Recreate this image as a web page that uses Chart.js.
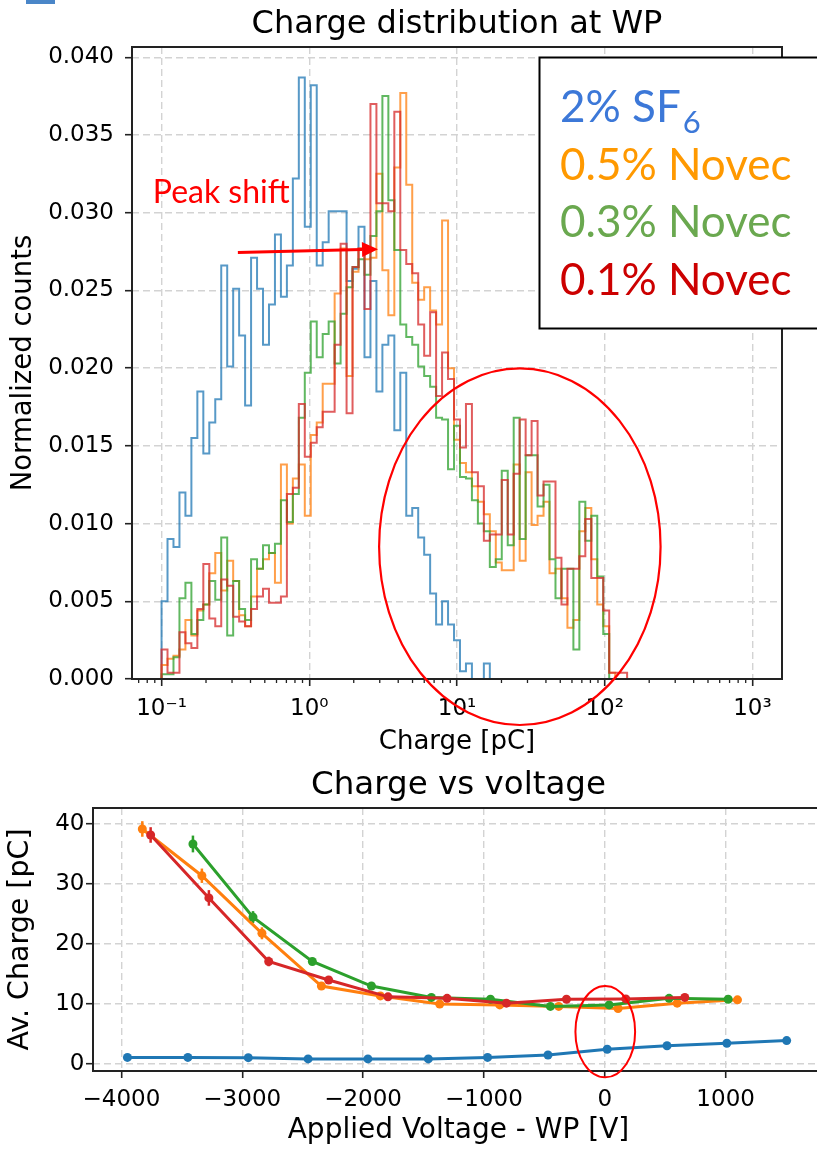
<!DOCTYPE html>
<html>
<head>
<meta charset="utf-8">
<script src="https://cdn.jsdelivr.net/npm/chart.js@4.4.1/dist/chart.umd.min.js"></script>
<style>
  html, body { margin: 0; padding: 0; background: #fff; overflow: hidden; width: 817px; height: 1151px; }
  #hist { position: absolute; left: 0; top: 0; }
  #volt { position: absolute; left: 0; top: 770px; }
  #corner { position: absolute; left: 26px; top: 0; width: 29px; height: 4px; background: #4a86c8; }
</style>
</head>
<body>
<div id="corner"></div>
<canvas id="hist" width="817" height="770"></canvas>
<canvas id="volt" width="845" height="381"></canvas>
<script>
// ---- top: charge histograms, bins = logspace(-1, 3, 100) pC ----
const BIN_LOG_MIN = -1, BIN_LOG_MAX = 3, N_EDGES = 100;

const sf6Counts = [
  0.0050, 0.0090, 0.0085, 0.0120, 0.0105, 0.0155, 0.0185, 0.0145, 0.0165, 0.0180,
  0.0266, 0.0201, 0.0251, 0.0221, 0.0176, 0.0271, 0.0251, 0.0215, 0.0241, 0.0286,
  0.0246, 0.0266, 0.0322, 0.0387, 0.0291, 0.0382, 0.0266, 0.0281, 0.0301, 0.0301,
  0.0301, 0.0256, 0.0264, 0.0291, 0.0207, 0.0256, 0.0185, 0.0215, 0.0221, 0.0160,
  0.0197, 0.0105, 0.0110, 0.0091, 0.0080, 0.0055, 0.0035, 0.0050, 0.0035, 0.0025,
  0.0005, 0.0010, 0, 0, 0.0010
];
const novec05Counts = [
  0.0009, 0.0013, 0.0015, 0.0019, 0.0038, 0.0028, 0.0044, 0.0048, 0.0068, 0.0081,
  0.0057, 0.0076, 0.0063, 0.0041, 0.0034, 0.0053, 0.0071, 0.0077, 0.0081, 0.0062,
  0.0138, 0.0100, 0.0129, 0.0138, 0.0105, 0.0157, 0.0165, 0.0190, 0.0190, 0.0248,
  0.0277, 0.0195, 0.0262, 0.0277, 0.0270, 0.0271, 0.0325, 0.0263, 0.0234, 0.0329,
  0.0377, 0.0318, 0.0255, 0.0244, 0.0252, 0.0237, 0.0228, 0.0295, 0.0200, 0.0154,
  0.0139, 0.0133, 0.0124, 0.0114, 0.0106, 0.0095, 0.0075, 0.0070, 0.0070, 0.0138,
  0.0076, 0.0133, 0.0099, 0.0105, 0.0114, 0.0068, 0.0071, 0.0052, 0.0033, 0.0038,
  0.0095, 0.0110, 0.0077, 0.0048, 0.0034, 0.0004
];
const novec03Counts = [
  0.0003, 0.0003, 0.0014, 0.0052, 0.0062, 0.0029, 0.0038, 0.0048, 0.0063, 0.0051,
  0.0091, 0.0028, 0.0063, 0.0045, 0.0038, 0.0077, 0.0071, 0.0086, 0.0081, 0.0087,
  0.0115, 0.0101, 0.0119, 0.0168, 0.0197, 0.0230, 0.0207, 0.0222, 0.0230, 0.0203,
  0.0235, 0.0252, 0.0265, 0.0270, 0.0260, 0.0285, 0.0301, 0.0375, 0.0308, 0.0276,
  0.0228, 0.0220, 0.0215, 0.0201, 0.0195, 0.0188, 0.0168, 0.0167, 0.0135, 0.0163,
  0.0130, 0.0129, 0.0115, 0.0100, 0.0095, 0.0072, 0.0077, 0.0134, 0.0086, 0.0168,
  0.0090, 0.0144, 0.0144, 0.0111, 0.0125, 0.0077, 0.0052, 0.0071, 0.0071, 0.0019,
  0.0114, 0.0089, 0.0105, 0.0066, 0.0029
];
const novec01Counts = [
  0.0019, 0.0004, 0.0004, 0.0030, 0.0023, 0.0020, 0.0045, 0.0074, 0.0039, 0.0034,
  0.0064, 0.0060, 0.0040, 0.0037, 0.0034, 0.0045, 0.0053, 0.0058, 0.0049, 0.0049,
  0.0053, 0.0119, 0.0123, 0.0177, 0.0143, 0.0152, 0.0162, 0.0172, 0.0172, 0.0215,
  0.0280, 0.0171, 0.0265, 0.0277, 0.0238, 0.0370, 0.0306, 0.0306, 0.0301, 0.0365,
  0.0276, 0.0267, 0.0261, 0.0228, 0.0208, 0.0236, 0.0182, 0.0210, 0.0193, 0.0167,
  0.0149, 0.0177, 0.0133, 0.0124, 0.0089, 0.0093, 0.0093, 0.0128, 0.0093, 0.0132,
  0.0167, 0.0144, 0.0166, 0.0118, 0.0127, 0.0127, 0.0078, 0.0048, 0.0071, 0.0071,
  0.0079, 0.0103, 0.0065, 0.0065, 0.0044, 0.0004, 0.0004, 0.0004
];
const histLabels = ['2% SF_6', '0.5% Novec', '0.3% Novec', '0.1% Novec'];
const chargeTicks = [0.1, 1, 10, 100, 1000];
const countTicks = [0, 0.005, 0.010, 0.015, 0.020, 0.025, 0.030, 0.035, 0.040];

// ---- bottom: average charge vs applied voltage ----
const sf6Volt = [-3950, -3450, -2950, -2455, -1960, -1460, -970, -470, 20, 515, 1010, 1505];
const sf6Charge = [1.1, 1.1, 1.05, 0.85, 0.85, 0.85, 1.1, 1.5, 2.45, 3.05, 3.45, 3.9];
const sf6Err = [0.1, 0.1, 0.1, 0.1, 0.1, 0.1, 0.1, 0.1, 0.1, 0.1, 0.1, 0.1];
const n05Volt = [-3827, -3334, -2837, -2345, -1857, -1366, -869, -381, 110, 599, 1098];
const n05Charge = [39.2, 31.4, 21.8, 13.0, 11.35, 10.0, 9.85, 9.6, 9.25, 10.15, 10.7];
const n05Err = [1.3, 1.2, 1.0, 0.6, 0.4, 0.3, 0.3, 0.3, 0.3, 0.3, 0.3];
const n03Volt = [-3408, -2911, -2420, -1931, -1435, -946, -450, 36, 532, 1021];
const n03Charge = [36.7, 24.5, 17.1, 13.0, 11.1, 10.8, 9.6, 9.85, 10.95, 10.8];
const n03Err = [1.4, 1.0, 0.6, 0.4, 0.3, 0.3, 0.3, 0.3, 0.3, 0.3];
const n01Volt = [-3758, -3276, -2781, -2285, -1794, -1305, -814, -317, 174, 662];
const n01Charge = [38.2, 27.7, 17.1, 14.0, 11.2, 10.95, 10.15, 10.8, 10.85, 11.1];
const n01Err = [1.3, 1.3, 0.8, 0.6, 0.4, 0.3, 0.3, 0.3, 0.3, 0.3];
const voltTicks = [-4000, -3000, -2000, -1000, 0, 1000];
const avChargeTicks = [0, 10, 20, 30, 40];

// annotations drawn on top (data coordinates)
const peakShiftAt = [0.0872, 0.0306];
const arrowFrom = [0.3286, 0.02744], arrowTo = [2.92, 0.02765];
const ovalCharge = [2.97, 238.8], ovalCounts = [0.01998, -0.00296];
const ovalVolt = [-243, 251], ovalAvCharge = [13.0, -2.22];

Chart.defaults.color = '#000';
Chart.defaults.font.family = 'DejaVu Sans';

const TAB = ['#1f77b4', '#ff7f0e', '#2ca02c', '#d62728'];
const HIST_COLORS = ['rgba(31,119,180,0.75)', 'rgba(255,127,14,0.75)', 'rgba(44,160,44,0.75)', 'rgba(214,39,40,0.75)'];
const TEXT_COLORS = ['#3c78d8', '#ff9900', '#6aa84f', '#cc0000'];

const chargeEdges = Array.from({length: N_EDGES}, (_, k) =>
  10 ** (BIN_LOG_MIN + (BIN_LOG_MAX - BIN_LOG_MIN) * k / (N_EDGES - 1)));

function histOutline(counts) {
  const pts = [{x: chargeEdges[0], y: 0}];
  counts.forEach((c, i) => pts.push({x: chargeEdges[i], y: c}));
  pts.push({x: chargeEdges[counts.length], y: 0});
  return pts;
}

const gridStyle = {color: '#d3d3d3', lineWidth: 1.4, tickColor: '#222', tickWidth: 1.6, tickLength: 7, borderDash: [7, 4]};
const borderStyle = {display: false, dash: [7, 4]};
const tickFont = {family: 'DejaVu Sans', size: 23};
const SUP = {'-': '\u207b', '0': '\u2070', '1': '\u00b9', '2': '\u00b2', '3': '\u00b3'};

function drawEllipse(ctx, xs, ys, xv, yv) {
  const x0 = xs.getPixelForValue(xv[0]), x1 = xs.getPixelForValue(xv[1]);
  const y0 = ys.getPixelForValue(yv[0]), y1 = ys.getPixelForValue(yv[1]);
  ctx.beginPath();
  ctx.ellipse((x0 + x1) / 2, (y0 + y1) / 2, Math.abs(x1 - x0) / 2, Math.abs(y1 - y0) / 2, 0, 0, 2 * Math.PI);
  ctx.stroke();
}

const histDecor = {
  id: 'histDecor',
  afterDraw(chart) {
    const {ctx, chartArea: a, scales: {x, y}} = chart;
    ctx.save();
    // minor log ticks
    ctx.strokeStyle = '#222';
    ctx.lineWidth = 1.3;
    for (let d = -2; d <= 3; d++) {
      for (let m = 2; m <= 9; m++) {
        const v = m * 10 ** d;
        if (v < x.min || v > x.max) continue;
        const px = x.getPixelForValue(v);
        ctx.beginPath(); ctx.moveTo(px, a.bottom); ctx.lineTo(px, a.bottom + 4); ctx.stroke();
      }
    }
    ctx.lineWidth = 2;
    ctx.strokeRect(a.left, a.top, a.right - a.left, a.bottom - a.top);

    ctx.fillStyle = '#000';
    ctx.font = '32px "DejaVu Sans"';
    ctx.textAlign = 'center';
    ctx.textBaseline = 'alphabetic';
    ctx.fillText('Charge distribution at WP', (a.left + a.right) / 2, 33);

    // red notes
    ctx.strokeStyle = '#ff0000';
    ctx.fillStyle = '#ff0000';
    ctx.lineWidth = 2.2;
    drawEllipse(ctx, x, y, ovalCharge, ovalCounts);

    const ax0 = x.getPixelForValue(arrowFrom[0]), ay0 = y.getPixelForValue(arrowFrom[1]);
    const ax1 = x.getPixelForValue(arrowTo[0]), ay1 = y.getPixelForValue(arrowTo[1]);
    const ang = Math.atan2(ay1 - ay0, ax1 - ax0);
    const bx = ax1 - 16 * Math.cos(ang), by = ay1 - 16 * Math.sin(ang);
    ctx.lineWidth = 3;
    ctx.beginPath(); ctx.moveTo(ax0, ay0); ctx.lineTo(bx, by); ctx.stroke();
    ctx.beginPath();
    ctx.moveTo(ax1, ay1);
    ctx.lineTo(bx + 7.5 * Math.sin(ang), by - 7.5 * Math.cos(ang));
    ctx.lineTo(bx - 7.5 * Math.sin(ang), by + 7.5 * Math.cos(ang));
    ctx.closePath(); ctx.fill();

    ctx.font = '32px Lato';
    ctx.textAlign = 'left';
    ctx.fillText('Peak shift', x.getPixelForValue(peakShiftAt[0]), y.getPixelForValue(peakShiftAt[1]));

    // legend text box
    ctx.fillStyle = '#fff';
    ctx.strokeStyle = '#000';
    ctx.lineWidth = 2;
    ctx.fillRect(539.5, 57.5, 320, 271);
    ctx.strokeRect(539.5, 57.5, 320, 271);
    chart.data.datasets.forEach((ds, i) => {
      const [main, sub] = ds.label.split('_');
      const by0 = 121.7 + 57.8 * i;
      ctx.fillStyle = TEXT_COLORS[i];
      ctx.font = '44px Lato';
      ctx.fillText(main, 560, by0);
      if (sub) {
        const w = ctx.measureText(main).width;
        ctx.font = '31px Lato';
        ctx.fillText(sub, 560 + w + 2, by0 + 11);
      }
    });
    ctx.restore();
  }
};

new Chart(document.getElementById('hist'), {
  type: 'line',
  data: {
    datasets: [sf6Counts, novec05Counts, novec03Counts, novec01Counts].map((c, i) => ({
      label: histLabels[i],
      data: histOutline(c),
      borderColor: HIST_COLORS[i],
      borderWidth: 2,
      pointRadius: 0,
      stepped: 'before',
      fill: false,
      order: 3 - i
    }))
  },
  options: {
    responsive: false,
    animation: false,
    devicePixelRatio: 1,
    layout: {padding: {left: 0, top: 47, right: 35, bottom: 0}},
    plugins: {legend: {display: false}, tooltip: {enabled: false}},
    scales: {
      x: {
        type: 'logarithmic',
        min: 10 ** -1.2,
        max: 10 ** 3.2,
        afterBuildTicks: s => { s.ticks = chargeTicks.map(v => ({value: v})); },
        afterFit: s => { s.height = 91; },
        grid: gridStyle,
        border: borderStyle,
        ticks: {
          font: tickFont, color: '#000', padding: 9, autoSkip: false, maxRotation: 0,
          callback: v => '10' + String(Math.round(Math.log10(v))).split('').map(c => SUP[c]).join('')
        },
        title: {display: true, text: 'Charge [pC]', font: {size: 26}, color: '#000', padding: {top: 0, bottom: 12}}
      },
      y: {
        min: 0,
        max: 0.04066,
        afterBuildTicks: s => { s.ticks = countTicks.map(v => ({value: v})); },
        afterFit: s => { s.width = 132; },
        grid: gridStyle,
        border: borderStyle,
        ticks: {font: tickFont, color: '#000', padding: 11, callback: v => v.toFixed(3)},
        title: {display: true, text: 'Normalized counts', font: {size: 27.5}, color: '#000', padding: {top: 7, bottom: 0}}
      }
    }
  },
  plugins: [histDecor]
});

const voltDecor = {
  id: 'voltDecor',
  beforeDatasetsDraw(chart) {
    const {ctx, scales: {x, y}} = chart;
    ctx.save();
    ctx.lineWidth = 2.5;
    chart.data.datasets.forEach((ds, i) => {
      ctx.strokeStyle = TAB[i];
      ds.data.forEach((p, j) => {
        const e = ds.errors[j];
        const px = x.getPixelForValue(p.x);
        ctx.beginPath();
        ctx.moveTo(px, y.getPixelForValue(p.y - e));
        ctx.lineTo(px, y.getPixelForValue(p.y + e));
        ctx.stroke();
      });
    });
    ctx.restore();
  },
  afterDraw(chart) {
    const {ctx, chartArea: a, scales: {x, y}} = chart;
    ctx.save();
    ctx.strokeStyle = '#222';
    ctx.lineWidth = 2;
    ctx.strokeRect(a.left, a.top, a.right - a.left, a.bottom - a.top);
    ctx.fillStyle = '#000';
    ctx.font = '32.5px "DejaVu Sans"';
    ctx.textAlign = 'center';
    ctx.textBaseline = 'alphabetic';
    ctx.fillText('Charge vs voltage', (a.left + a.right) / 2, 24);
    ctx.strokeStyle = '#ff0000';
    ctx.lineWidth = 2;
    drawEllipse(ctx, x, y, ovalVolt, ovalAvCharge);
    ctx.restore();
  }
};

const voltSeries = [
  [sf6Volt, sf6Charge, sf6Err],
  [n05Volt, n05Charge, n05Err],
  [n03Volt, n03Charge, n03Err],
  [n01Volt, n01Charge, n01Err]
];

new Chart(document.getElementById('volt'), {
  type: 'scatter',
  data: {
    datasets: voltSeries.map(([vx, vy, ve], i) => ({
      label: histLabels[i],
      data: vx.map((v, j) => ({x: v, y: vy[j]})),
      errors: ve,
      showLine: true,
      borderColor: TAB[i],
      backgroundColor: TAB[i],
      borderWidth: 3,
      pointRadius: 4.5,
      pointBorderWidth: 0,
      order: 3 - i
    }))
  },
  options: {
    responsive: false,
    animation: false,
    devicePixelRatio: 1,
    layout: {padding: {left: 0, top: 38, right: 21, bottom: 0}},
    plugins: {legend: {display: false}, tooltip: {enabled: false}},
    scales: {
      x: {
        type: 'linear',
        min: -4235,
        max: 1814,
        afterBuildTicks: s => { s.ticks = voltTicks.map(v => ({value: v})); },
        afterFit: s => { s.height = 80; },
        grid: gridStyle,
        border: borderStyle,
        ticks: {font: tickFont, color: '#000', padding: 8.5, autoSkip: false, maxRotation: 0,
          callback: v => (v < 0 ? '\u2212' + Math.abs(v) : String(v))},
        title: {display: true, text: 'Applied Voltage - WP [V]', font: {size: 28}, color: '#000', padding: {top: 0, bottom: 3}}
      },
      y: {
        min: -1.17,
        max: 42.7,
        afterBuildTicks: s => { s.ticks = avChargeTicks.map(v => ({value: v})); },
        afterFit: s => { s.width = 93; },
        grid: gridStyle,
        border: borderStyle,
        ticks: {font: tickFont, color: '#000', padding: 1.5},
        title: {display: true, text: 'Av. Charge [pC]', font: {size: 28.5}, color: '#000', padding: {top: 3, bottom: 0}}
      }
    }
  },
  plugins: [voltDecor]
});
</script>
</body>
</html>
